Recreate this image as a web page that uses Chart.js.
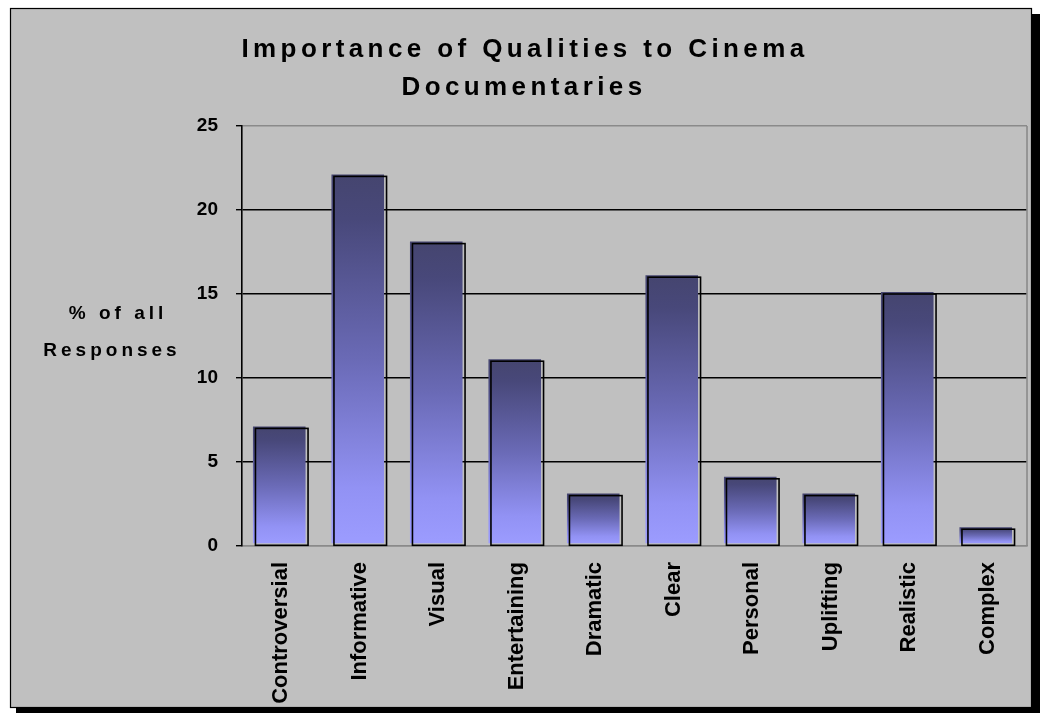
<!DOCTYPE html>
<html>
<head>
<meta charset="utf-8">
<title>Importance of Qualities to Cinema Documentaries</title>
<script src="https://cdn.jsdelivr.net/npm/chart.js@4/dist/chart.umd.min.js"></script>
<style>
  html, body { margin: 0; padding: 0; background: #ffffff; }
  canvas { display: block; }
</style>
</head>
<body>
<canvas id="chart" width="1040" height="713"></canvas>
<script>
// Survey qualities and the share of all responses naming each one
const categories = ['Controversial', 'Informative', 'Visual', 'Entertaining', 'Dramatic',
                    'Clear', 'Personal', 'Uplifting', 'Realistic', 'Complex'];
const responseShare = [7, 22, 18, 11, 3, 16, 4, 3, 15, 1];
const yTickValues = [0, 5, 10, 15, 20, 25];
const titleLines = ['Importance of Qualities to Cinema', 'Documentaries'];
const yTitleLines = ['% of all', 'Responses'];

const SANS = "'Liberation Sans', Arial, sans-serif";

// Framed grey panel with a drop shadow behind the whole chart
const panelPlugin = {
  id: 'panel',
  beforeDraw(chart) {
    const ctx = chart.ctx;
    ctx.save();
    ctx.fillStyle = '#ffffff';
    ctx.fillRect(0, 0, chart.width, chart.height);
    ctx.fillStyle = '#000000';
    ctx.fillRect(16, 14, chart.width - 16, chart.height - 14);
    ctx.fillStyle = '#c0c0c0';
    ctx.fillRect(10, 8, 1022, 700);
    ctx.strokeStyle = '#000000';
    ctx.lineWidth = 1.2;
    ctx.strokeRect(10.5, 8.5, 1021, 699);
    ctx.restore();
  }
};

// Grey frame on the right side of the plot area
const plotFramePlugin = {
  id: 'plotFrame',
  beforeDatasetsDraw(chart) {
    const { ctx, chartArea } = chart;
    ctx.save();
    ctx.strokeStyle = '#8a8a8a';
    ctx.lineWidth = 1.6;
    ctx.beginPath();
    ctx.moveTo(chartArea.right, chartArea.top);
    ctx.lineTo(chartArea.right, chartArea.bottom);
    ctx.stroke();
    ctx.restore();
  }
};

// Bar fills sit slightly up-left of their black outlines
const barOutlinePlugin = {
  id: 'barOutline',
  beforeDatasetDraw(chart) {
    chart.ctx.save();
    chart.ctx.translate(-2, -2);
  },
  afterDatasetDraw(chart) {
    chart.ctx.restore();
  },
  afterDatasetsDraw(chart) {
    const ctx = chart.ctx;
    const meta = chart.getDatasetMeta(0);
    ctx.save();
    ctx.strokeStyle = '#000000';
    ctx.lineWidth = 1.6;
    meta.data.forEach(bar => {
      const { x, y, width, base } = bar.getProps(['x', 'y', 'width', 'base'], true);
      ctx.strokeRect(x - width / 2 + 0.5, y, width, base - y);
    });
    ctx.restore();
  }
};

// Letter-spaced chart title and horizontal value-axis caption
const captionPlugin = {
  id: 'captions',
  afterDraw(chart) {
    const ctx = chart.ctx;
    ctx.save();
    ctx.fillStyle = '#000000';
    ctx.textAlign = 'center';
    ctx.textBaseline = 'alphabetic';

    ctx.font = 'bold 26px ' + SANS;
    ctx.letterSpacing = '4.4px';
    ctx.fillText(titleLines[0], 523 + 2, 57);
    ctx.fillText(titleLines[1], 522 + 2, 95);

    ctx.font = 'bold 19px ' + SANS;
    ctx.letterSpacing = '4px';
    ctx.fillText(yTitleLines[0], 116 + 2, 319);
    ctx.fillText(yTitleLines[1], 110 + 2, 356);
    ctx.restore();
  }
};

function barGradient(c) {
  const chart = c.chart;
  if (!chart.chartArea || c.type !== 'data') return '#7070c0';
  const ys = chart.scales.y;
  const top = ys.getPixelForValue(c.raw);
  const bottom = ys.getPixelForValue(0);
  const g = chart.ctx.createLinearGradient(0, top, 0, bottom);
  g.addColorStop(0, '#45456f');
  g.addColorStop(0.12, '#48487a');
  g.addColorStop(0.5, '#6a6ab6');
  g.addColorStop(0.85, '#9292f4');
  g.addColorStop(1, '#9c9cff');
  return g;
}

new Chart(document.getElementById('chart'), {
  type: 'bar',
  data: {
    labels: categories,
    datasets: [{
      label: '% of all Responses',
      data: responseShare,
      backgroundColor: barGradient,
      borderWidth: 0,
      barPercentage: 0.67,
      categoryPercentage: 1.0
    }]
  },
  options: {
    responsive: false,
    animation: false,
    events: [],
    layout: { padding: { left: 142, right: 13, top: 126, bottom: 0 } },
    plugins: {
      legend: { display: false },
      title: { display: false },
      tooltip: { enabled: false }
    },
    scales: {
      x: {
        grid: { display: false, drawTicks: false },
        border: { display: true, color: '#8a8a8a', width: 1.6 },
        ticks: {
          color: '#000000',
          minRotation: 90,
          maxRotation: 90,
          autoSkip: false,
          padding: 16,
          font: { family: SANS, size: 22, weight: 'bold' }
        },
        afterFit(scale) { scale.height = 167; }
      },
      y: {
        min: 0,
        max: 25,
        afterBuildTicks(scale) { scale.ticks = yTickValues.map(v => ({ value: v })); },
        grid: {
          color: c => (c.tick && (c.tick.value === 0 || c.tick.value === 25)) ? '#8a8a8a' : '#000000',
          lineWidth: 1.4,
          tickColor: '#000000',
          tickLength: 6
        },
        border: { display: true, color: '#000000', width: 1.6 },
        ticks: {
          color: '#000000',
          padding: 18,
          font: { family: SANS, size: 19, weight: 'bold' }
        },
        afterFit(scale) { scale.width = 100; }
      }
    }
  },
  plugins: [panelPlugin, plotFramePlugin, barOutlinePlugin, captionPlugin]
});
</script>
</body>
</html>
